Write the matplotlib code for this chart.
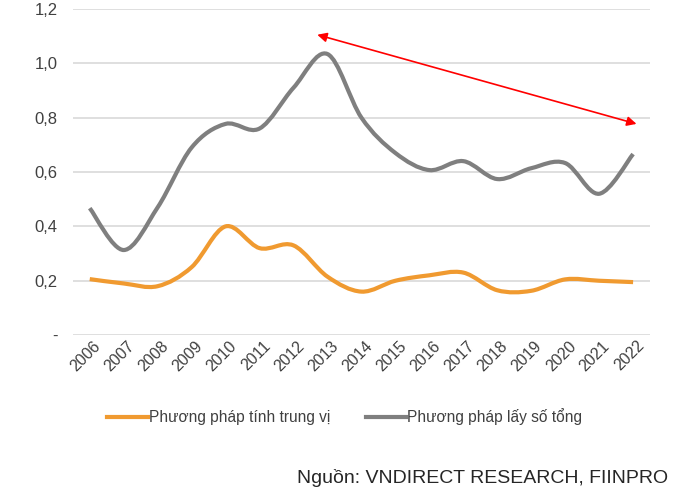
import matplotlib
matplotlib.use("Agg")
import matplotlib.pyplot as plt
import matplotlib.transforms as mtransforms
from matplotlib.path import Path
from matplotlib.patches import PathPatch
from matplotlib.lines import Line2D
import numpy as np

plt.rcParams['font.family'] = ['Liberation Sans', 'DejaVu Sans']

years = [str(y) for y in range(2006, 2023)]
median_method = [0.206, 0.19, 0.18, 0.25, 0.40, 0.32, 0.33, 0.215, 0.16, 0.20,
                 0.22, 0.23, 0.165, 0.163, 0.205, 0.20, 0.195]
total_method = [0.467, 0.313, 0.47, 0.69, 0.777, 0.76, 0.91, 1.034, 0.80, 0.67,
                0.607, 0.64, 0.574, 0.614, 0.633, 0.52, 0.666]
yticks = [0, 0.2, 0.4, 0.6, 0.8, 1.0, 1.2]
ytick_labels = ['-', '0,2', '0,4', '0,6', '0,8', '1,0', '1,2']
label_median = 'Phương pháp tính trung vị'
label_total = 'Phương pháp lấy số tổng'
source = 'Nguồn: VNDIRECT RESEARCH, FIINPRO'

ORANGE = '#F09A30'
GRAY = '#7F7F7F'


def smooth_path(xs, ys, t=1 / 6):
    # Excel-style smoothed line: cubic bezier through every point
    pts = np.column_stack([xs, ys])
    verts = [pts[0]]
    codes = [Path.MOVETO]
    n = len(pts)
    for i in range(n - 1):
        p0 = pts[i - 1] if i > 0 else pts[i]
        p1 = pts[i]
        p2 = pts[i + 1]
        p3 = pts[i + 2] if i + 2 < n else pts[i + 1]
        c1 = p1 + (p2 - p0) * t
        c2 = p2 - (p3 - p1) * t
        verts += [c1, c2, p2]
        codes += [Path.CURVE4] * 3
    return Path(verts, codes)


fig = plt.figure(figsize=(6.8, 4.95), dpi=100)
ax = fig.add_axes([0.107, 0.323, 0.849, 0.659])

x = np.arange(len(years))
for vals, col in [(median_method, ORANGE), (total_method, GRAY)]:
    ax.add_patch(PathPatch(smooth_path(x, vals), facecolor='none',
                           edgecolor=col, lw=3, capstyle='butt', zorder=3))

ax.set_xlim(-0.5, len(years) - 0.5)
ax.set_ylim(0, 1.2)
ax.set_yticks(yticks)
ax.set_yticklabels(ytick_labels)
ax.set_xticks(x)
ax.grid(axis='y', color='#D9D9D9', lw=1.2)
ax.set_axisbelow(True)
for s in ax.spines.values():
    s.set_visible(False)
ax.tick_params(length=0, colors='#404040')
ax.tick_params(axis='x', labelsize=11.5, pad=0)
ax.tick_params(axis='y', labelsize=12, pad=11)
ax.set_xticklabels(years, rotation=45, ha='right', va='center',
                   rotation_mode='anchor')
# shift rotated year labels (after tick_params, which resets transforms)
offset = mtransforms.ScaledTranslation(6 / 72, -6 / 72, fig.dpi_scale_trans)
for lab in ax.get_xticklabels():
    lab.set_transform(lab.get_transform() + offset)

# red trend arrow
ax.annotate('', xy=(16.1, 0.777), xytext=(6.7, 1.105),
            arrowprops=dict(arrowstyle='<|-|>', color='#FF0000', lw=1.2,
                            mutation_scale=14, shrinkA=0, shrinkB=0))

handles = [Line2D([], [], color=ORANGE, lw=3), Line2D([], [], color=GRAY, lw=3)]
fig.legend(handles, [label_median, label_total], loc='center',
           bbox_to_anchor=(0.507, 0.158), ncol=2, frameon=False,
           handlelength=2.6, handletextpad=0.05, columnspacing=2.3,
           fontsize=11.2, labelcolor='#404040')

fig.text(0.983, 0.034, source, ha='right', va='center', fontsize=14,
         color='#262626')

fig.savefig('out.png', dpi=100, facecolor='white')
